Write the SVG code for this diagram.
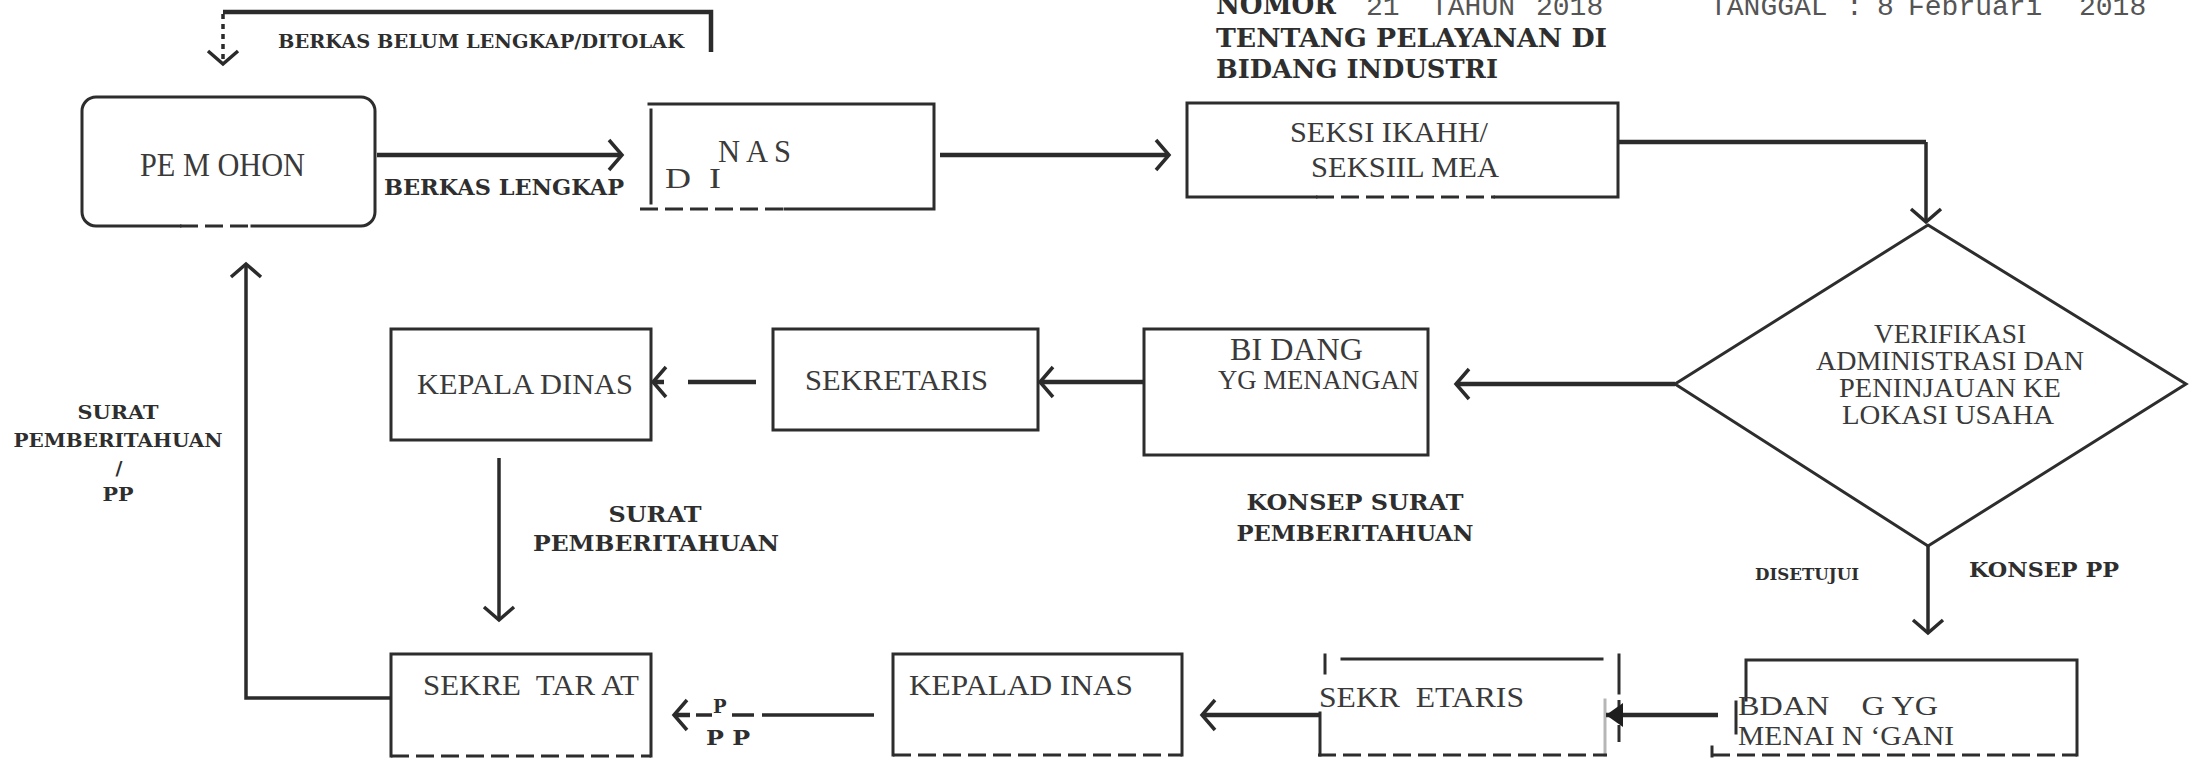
<svg xmlns="http://www.w3.org/2000/svg" width="2190" height="761" viewBox="0 0 2190 761">
  <style>
    .box { fill: none; stroke: #2d2d2d; stroke-width: 3; stroke-linecap: square; }
    .dash { fill: none; stroke: #2d2d2d; stroke-width: 3; stroke-dasharray: 18 7; }
    .edge { fill: none; stroke: #2b2b2b; stroke-width: 3.5; }
    .thick { stroke-width: 4.5; }
    .dot { stroke-dasharray: 5 5; }
    .t { font-family: "Liberation Serif", "Times New Roman", serif; fill: #3a3a3a; white-space: pre; }
    .b { font-family: "DejaVu Serif", "Liberation Serif", serif; font-weight: bold; fill: #2e2e2e; white-space: pre; }
    .m { font-family: "Liberation Mono", "Courier New", monospace; fill: #555555; white-space: pre; }
  </style>
  <defs>
    <marker id="chev" viewBox="-16 -18 20 36" refX="0" refY="0" markerWidth="20" markerHeight="36" markerUnits="userSpaceOnUse" orient="auto" overflow="visible">
      <path d="M-13,-15 L0,0 L-13,15" fill="none" stroke="#2b2b2b" stroke-width="3.5"/>
    </marker>
    <marker id="tri" viewBox="-18 -14 20 28" refX="0" refY="0" markerWidth="20" markerHeight="28" markerUnits="userSpaceOnUse" orient="auto" overflow="visible">
      <path d="M-17,-12 L0,0 L-17,12 Z" fill="#1e1e1e"/>
    </marker>
  </defs>

  <rect width="2190" height="761" fill="#ffffff"/>

  <!-- header -->
  <g id="header">
    <text class="b" x="1216" y="14" font-size="28" textLength="120" lengthAdjust="spacingAndGlyphs">NOMOR</text>
    <text class="m" y="15" font-size="28"><tspan x="1366">21</tspan><tspan x="1431">TAHUN</tspan><tspan x="1536">2018</tspan><tspan x="1710">TANGGAL</tspan><tspan x="1846">:</tspan><tspan x="1877">8</tspan><tspan x="1908">Februari</tspan><tspan x="2079">2018</tspan></text>
    <text class="b" x="1216" y="47" font-size="26" textLength="391" lengthAdjust="spacingAndGlyphs">TENTANG PELAYANAN DI</text>
    <text class="b" x="1216" y="78" font-size="26" textLength="282" lengthAdjust="spacingAndGlyphs">BIDANG INDUSTRI</text>
  </g>

  <!-- nodes -->
  <g id="pemohon">
    <path class="box" d="M180,226 H96 A14,14 0 0 1 82,212 V111 A14,14 0 0 1 96,97 H361 A14,14 0 0 1 375,111 V212 A14,14 0 0 1 361,226 H252"/>
    <line class="dash" x1="180" y1="226" x2="252" y2="226"/>
    <text class="t" x="140" y="176" font-size="33" textLength="165" lengthAdjust="spacingAndGlyphs">PE M OHON</text>
  </g>

  <g id="dinas">
    <path class="box" d="M649,104 H934 V209 H785"/>
    <line class="box" x1="651" y1="110" x2="651" y2="203"/>
    <line class="dash" x1="640" y1="209" x2="785" y2="209"/>
    <text class="t" x="718" y="162" font-size="31" textLength="73" lengthAdjust="spacingAndGlyphs">N A S</text>
    <text class="t" x="665" y="188" font-size="30" textLength="56" lengthAdjust="spacingAndGlyphs">D  I</text>
  </g>

  <g id="seksi">
    <path class="box" d="M1316,197 H1187 V103 H1618 V197 H1495"/>
    <line class="dash" x1="1316" y1="197" x2="1495" y2="197"/>
    <text class="t" x="1290" y="142" font-size="30" textLength="198" lengthAdjust="spacingAndGlyphs">SEKSI IKAHH/</text>
    <text class="t" x="1311" y="177" font-size="30" textLength="188" lengthAdjust="spacingAndGlyphs">SEKSIIL MEA</text>
  </g>

  <g id="verifikasi">
    <polygon class="box" points="1928,225 2186,384 1928,546 1675,384"/>
    <text class="t" x="1950" y="343" font-size="27" text-anchor="middle" textLength="152" lengthAdjust="spacingAndGlyphs">VERIFIKASI</text>
    <text class="t" x="1950" y="370" font-size="27" text-anchor="middle" textLength="268" lengthAdjust="spacingAndGlyphs">ADMINISTRASI DAN</text>
    <text class="t" x="1950" y="397" font-size="27" text-anchor="middle" textLength="222" lengthAdjust="spacingAndGlyphs">PENINJAUAN KE</text>
    <text class="t" x="1948" y="424" font-size="27" text-anchor="middle" textLength="212" lengthAdjust="spacingAndGlyphs">LOKASI USAHA</text>
  </g>

  <g id="bidang-menangan">
    <rect class="box" x="1144" y="329" width="284" height="126"/>
    <text class="t" x="1230" y="360" font-size="31" textLength="133" lengthAdjust="spacingAndGlyphs">BI DANG</text>
    <text class="t" x="1218" y="389" font-size="27" textLength="201" lengthAdjust="spacingAndGlyphs">YG MENANGAN</text>
  </g>

  <g id="sekretaris-1">
    <rect class="box" x="773" y="329" width="265" height="101"/>
    <text class="t" x="805" y="390" font-size="30" textLength="183" lengthAdjust="spacingAndGlyphs">SEKRETARIS</text>
  </g>

  <g id="kepala-dinas-1">
    <rect class="box" x="391" y="329" width="260" height="111"/>
    <text class="t" x="417" y="394" font-size="30" textLength="216" lengthAdjust="spacingAndGlyphs">KEPALA DINAS</text>
  </g>

  <g id="sekretariat">
    <path class="box" d="M391,756 V654 H651 V756"/>
    <line class="dash" x1="391" y1="756" x2="651" y2="756"/>
    <text class="t" x="423" y="695" font-size="30" textLength="216" lengthAdjust="spacingAndGlyphs">SEKRE  TAR AT</text>
  </g>

  <g id="kepala-dinas-2">
    <path class="box" d="M893,755 V654 H1182 V755"/>
    <line class="dash" x1="893" y1="755" x2="1182" y2="755"/>
    <text class="t" x="909" y="695" font-size="30" textLength="224" lengthAdjust="spacingAndGlyphs">KEPALAD INAS</text>
  </g>

  <g id="sekretaris-2">
    <line class="box" x1="1342" y1="659" x2="1602" y2="659"/>
    <line class="box" x1="1325" y1="655" x2="1325" y2="673"/>
    <line class="box" x1="1320" y1="713" x2="1320" y2="755"/>
    <line class="box" x1="1605" y1="700" x2="1605" y2="755" stroke-opacity="0.35"/>
    <line class="box" x1="1619" y1="655" x2="1619" y2="693" stroke-width="5"/>
    <line class="dash" x1="1619" y1="700" x2="1619" y2="742" stroke-width="5" stroke-dasharray="9 9"/>
    <line class="dash" x1="1318" y1="755" x2="1607" y2="755"/>
    <text class="t" x="1319" y="707" font-size="30" textLength="205" lengthAdjust="spacingAndGlyphs">SEKR  ETARIS</text>
  </g>

  <g id="bidang-menangani">
    <path class="box" d="M1746,700 V660 H2077 V755"/>
    <line class="box" x1="1736" y1="702" x2="1736" y2="733"/>
    <line class="box" x1="1712" y1="747" x2="1712" y2="756"/>
    <line class="dash" x1="1712" y1="755" x2="2077" y2="755"/>
    <text class="t" x="1738" y="715" font-size="28" textLength="200" lengthAdjust="spacingAndGlyphs">BDAN    G YG</text>
    <text class="t" x="1738" y="745" font-size="28" textLength="216" lengthAdjust="spacingAndGlyphs">MENAI N ‘GANI</text>
  </g>

  <!-- connectors -->
  <g id="connectors">
    <path class="edge thick" d="M223,12 H711 V52"/>
    <path class="edge dot" d="M223,14 V64" marker-end="url(#chev)"/>
    <path class="edge thick" d="M377,155 H622" marker-end="url(#chev)"/>
    <path class="edge thick" d="M940,155 H1169" marker-end="url(#chev)"/>
    <path class="edge thick" d="M1618,142 H1926"/>
    <path class="edge" d="M1926,142 V222" marker-end="url(#chev)"/>
    <path class="edge thick" d="M1675,384 H1456" marker-end="url(#chev)"/>
    <path class="edge thick" d="M1144,382 H1040" marker-end="url(#chev)"/>
    <path class="edge thick" d="M756,382 H688"/>
    <path class="edge thick" d="M664,382 H653" marker-end="url(#chev)"/>
    <path class="edge" d="M499,458 V620" marker-end="url(#chev)"/>
    <path class="edge" d="M391,698 H246 V264" marker-end="url(#chev)"/>
    <path class="edge" d="M1928,546 V633" marker-end="url(#chev)"/>
    <path class="edge thick" d="M1718,715 H1606" marker-end="url(#tri)"/>
    <path class="edge thick" d="M1320,715 H1202" marker-end="url(#chev)"/>
    <path class="edge" d="M874,715 H762 M754,715 H732 M712,715 H696"/>
    <path class="edge thick" d="M690,715 H674" marker-end="url(#chev)"/>

    <!-- connector labels -->
    <text class="b" x="278" y="48" font-size="18" textLength="406" lengthAdjust="spacingAndGlyphs">BERKAS BELUM LENGKAP/DITOLAK</text>
    <text class="b" x="384" y="195" font-size="23" textLength="240" lengthAdjust="spacingAndGlyphs">BERKAS LENGKAP</text>
    <text class="b" x="118" y="419" font-size="19" text-anchor="middle" textLength="81" lengthAdjust="spacingAndGlyphs">SURAT</text>
    <text class="b" x="118" y="447" font-size="19" text-anchor="middle" textLength="209" lengthAdjust="spacingAndGlyphs">PEMBERITAHUAN</text>
    <text class="b" x="119" y="475" font-size="19" text-anchor="middle">/</text>
    <text class="b" x="118" y="501" font-size="19" text-anchor="middle" textLength="31" lengthAdjust="spacingAndGlyphs">PP</text>
    <text class="b" x="655" y="522" font-size="22" text-anchor="middle" textLength="93" lengthAdjust="spacingAndGlyphs">SURAT</text>
    <text class="b" x="656" y="551" font-size="22" text-anchor="middle" textLength="246" lengthAdjust="spacingAndGlyphs">PEMBERITAHUAN</text>
    <text class="b" x="1355" y="510" font-size="22" text-anchor="middle" textLength="217" lengthAdjust="spacingAndGlyphs">KONSEP SURAT</text>
    <text class="b" x="1355" y="541" font-size="22" text-anchor="middle" textLength="237" lengthAdjust="spacingAndGlyphs">PEMBERITAHUAN</text>
    <text class="b" x="1755" y="580" font-size="17" textLength="104" lengthAdjust="spacingAndGlyphs">DISETUJUI</text>
    <text class="b" x="1969" y="577" font-size="21" textLength="150" lengthAdjust="spacingAndGlyphs">KONSEP PP</text>
    <text class="b" x="713" y="713" font-size="18">P</text>
    <text class="b" x="706" y="745" font-size="20" textLength="44" lengthAdjust="spacingAndGlyphs">P P</text>
  </g>
</svg>
